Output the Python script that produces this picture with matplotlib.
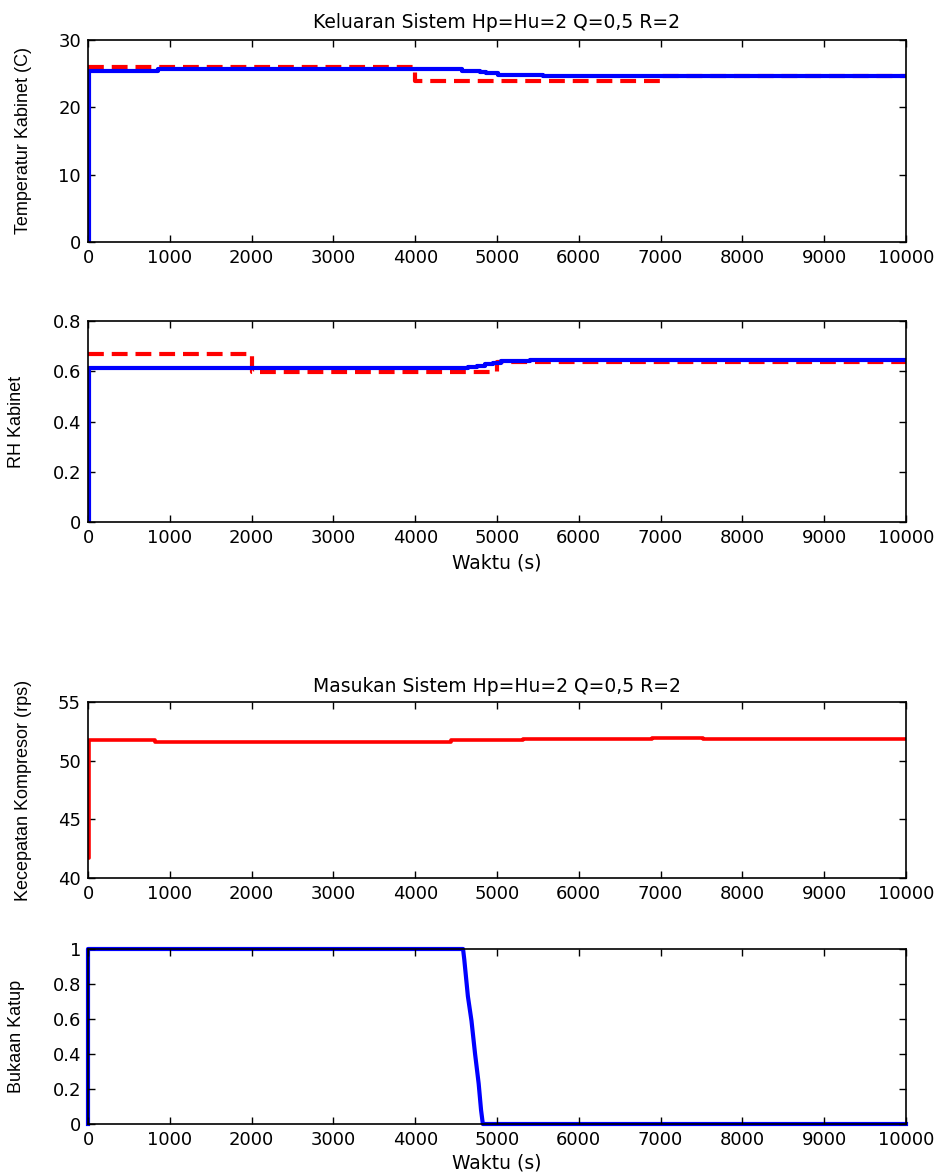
import matplotlib
matplotlib.use("Agg")
import matplotlib.pyplot as plt

# time axis (s)
t_max = 10000
x_ticks = list(range(0, 10001, 1000))

# Temperatur kabinet: setpoint (red dashed) and output (blue), step data
temp_ref_t = [0, 4000, 7000, 10000]
temp_ref_v = [25.95, 23.9, 24.6, 24.6]
temp_out_t = [0, 15, 850, 4570, 4790, 4870, 5010, 5560, 10000]
temp_out_v = [0, 25.35, 25.65, 25.45, 25.25, 25.05, 24.85, 24.6, 24.6]

# RH kabinet
rh_ref_t = [0, 2000, 5000, 10000]
rh_ref_v = [0.668, 0.598, 0.638, 0.638]
rh_out_t = [0, 15, 4650, 4750, 4850, 4950, 5050, 5400, 10000]
rh_out_v = [0, 0.611, 0.615, 0.620, 0.627, 0.633, 0.639, 0.644, 0.644]

# Kecepatan kompresor (rps)
komp_t = [0, 15, 820, 4440, 5320, 6900, 7520, 10000]
komp_v = [41.7, 51.75, 51.63, 51.75, 51.83, 51.95, 51.83, 51.83]

# Bukaan katup
katup_t = [0, 0, 4585, 4600, 4644, 4688, 4732, 4776, 4805, 4827, 10000]
katup_v = [0, 1, 1, 0.94, 0.73, 0.59, 0.40, 0.23, 0.08, 0, 0]

title_out = "Keluaran Sistem Hp=Hu=2 Q=0,5 R=2"
title_in = "Masukan Sistem Hp=Hu=2 Q=0,5 R=2"

plt.rcParams['font.family'] = ['DejaVu Sans']
TICK_FS = 13
LBL_FS = 13.5

fig = plt.figure(figsize=(9.43, 11.72), dpi=100)
W, H = 943.0, 1172.0

def make_ax(top, bottom):
    left, right = 88, 906
    return fig.add_axes([left / W, 1 - bottom / H, (right - left) / W, (bottom - top) / H])

def style(ax, yticks, ylabels, ylim, ylabel, lx):
    ax.set_xlim(0, t_max)
    ax.set_xticks(x_ticks)
    ax.set_ylim(*ylim)
    ax.set_yticks(yticks)
    ax.set_yticklabels(ylabels)
    ax.tick_params(direction='in', top=True, right=True, length=5, width=1,
                   labelsize=TICK_FS, pad=5)
    for s in ax.spines.values():
        s.set_linewidth(1.2)
    ax.set_ylabel(ylabel, family=['Liberation Sans', 'DejaVu Sans'], fontsize=13)
    ax.yaxis.set_label_coords(lx, 0.5)

ax1 = make_ax(40, 242)
ax1.plot(temp_ref_t, temp_ref_v, drawstyle='steps-post', color='#ff0000', lw=3,
         dashes=(3.8, 1.9))
ax1.plot(temp_out_t, temp_out_v, drawstyle='steps-post', color='#0000ff', lw=3)
style(ax1, [0, 10, 20, 30], ['0', '10', '20', '30'], (0, 30), 'Temperatur Kabinet (C)', -0.068)
ax1.set_title(title_out, fontsize=LBL_FS, pad=9)

ax2 = make_ax(321, 522)
ax2.plot(rh_ref_t, rh_ref_v, drawstyle='steps-post', color='#ff0000', lw=3,
         dashes=(3.8, 1.9))
ax2.plot(rh_out_t, rh_out_v, drawstyle='steps-post', color='#0000ff', lw=3)
style(ax2, [0, 0.2, 0.4, 0.6, 0.8], ['0', '0.2', '0.4', '0.6', '0.8'], (0, 0.8),
      'RH Kabinet', -0.077)
ax2.set_xlabel('Waktu (s)', fontsize=LBL_FS, labelpad=5)

ax3 = make_ax(702, 878)
ax3.plot(komp_t, komp_v, drawstyle='steps-post', color='#ff0000', lw=2.6)
style(ax3, [40, 45, 50, 55], ['40', '45', '50', '55'], (40, 55),
      'Kecepatan Kompresor (rps)', -0.068)
ax3.set_title(title_in, fontsize=LBL_FS, pad=7)

ax4 = make_ax(949, 1124)
ax4.plot(katup_t, katup_v, color='#0000ff', lw=3, clip_on=False, zorder=1)
style(ax4, [0, 0.2, 0.4, 0.6, 0.8, 1], ['0', '0.2', '0.4', '0.6', '0.8', '1'], (0, 1),
      'Bukaan Katup', -0.077)
ax4.set_xlabel('Waktu (s)', fontsize=LBL_FS, labelpad=3)

fig.savefig('out.png', dpi=100)
